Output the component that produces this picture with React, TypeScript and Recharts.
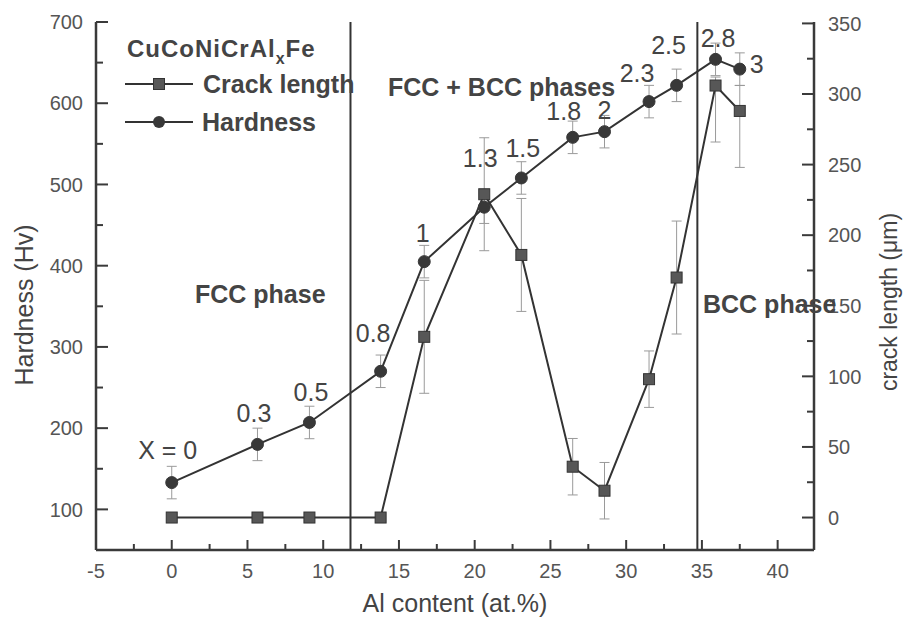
import React from 'react';
import { LineChart, Line, XAxis, YAxis, ErrorBar, ReferenceLine, LabelList, Legend } from 'recharts';

// ---- data ----
const alContent = [0, 5.66, 9.09, 13.79, 16.67, 20.63, 23.08, 26.47, 28.57, 31.51, 33.33, 35.9, 37.5];
const alLabels = ['X = 0', '0.3', '0.5', '0.8', '1', '1.3', '1.5', '1.8', '2', '2.3', '2.5', '2.8', '3'];
const hardness = [133, 180, 207, 270, 405, 472, 508, 558, 565, 602, 622, 654, 642];
const hardnessErr = [20, 20, 20, 20, 20, 20, 20, 20, 20, 20, 20, 20, 20];
const crackLength = [0, 0, 0, 0, 128, 229, 186, 36, 19, 98, 170, 306, 288];
const crackErr: (number | number[])[] = [0, 0, 0, 0, 40, 40, 40, 20, 20, 20, 40, [40, 6], [40, 18]];
const phaseBoundaries = [11.8, 34.7];

const xTicks = [-5, -2.5, 0, 2.5, 5, 7.5, 10, 12.5, 15, 17.5, 20, 22.5, 25, 27.5, 30, 32.5, 35, 37.5, 40];
const leftTicks = [100, 150, 200, 250, 300, 350, 400, 450, 500, 550, 600, 650, 700];
const rightTicks = [0, 25, 50, 75, 100, 125, 150, 175, 200, 225, 250, 275, 300, 325, 350];

const data = alContent.map((al, i) => ({
  al,
  label: alLabels[i],
  hardness: hardness[i],
  hardErr: hardnessErr[i],
  crack: crackLength[i],
  crackErr: crackErr[i],
}));

// ---- layout / style ----
const W = 906;
const H = 626;
const FONT = 'Arial, "Liberation Sans", Helvetica, sans-serif';
const AXIS = '#3a3a3a';
const TICK_TEXT = '#555';
const TEXT = '#444';
const LINE = '#333';
const ERR = '#9a9a9a';

// label offsets (baseline relative to point centre)
const LABEL_DX = [-4, -3.5, 1.5, -7.5, -1.5, -4, 1.5, -9, 0, -12, -8, 2.5, 17];
const LABEL_DY = [-24, -22, -21.5, -29.5, -20, -40.5, -21, -17.5, -12.5, -20, -31.5, -12.5, 4];

const LeftTick = (props: any) => {
  const { x, y, payload } = props;
  const v = payload.value;
  const major = v % 100 === 0;
  return (
    <g>
      <line x1={x} x2={x + (major ? 12 : 7)} y1={y} y2={y} stroke={AXIS} strokeWidth={2} />
      {major && (
        <text x={x - 13} y={y} dy="0.36em" textAnchor="end" fontSize={20} fill={TICK_TEXT} fontFamily={FONT}>
          {v}
        </text>
      )}
    </g>
  );
};

const RightTick = (props: any) => {
  const { x, y, payload } = props;
  const v = payload.value;
  const major = v % 50 === 0;
  return (
    <g>
      <line x1={x} x2={x - (major ? 12 : 7)} y1={y} y2={y} stroke={AXIS} strokeWidth={2} />
      {major && (
        <text x={x + 14} y={y} dy="0.36em" textAnchor="start" fontSize={20} fill={TICK_TEXT} fontFamily={FONT}>
          {v}
        </text>
      )}
    </g>
  );
};

const BottomTick = (props: any) => {
  const { x, y, payload } = props;
  const v = payload.value;
  const major = Math.abs(v % 5) < 1e-6;
  return (
    <g>
      <line x1={x} x2={x} y1={y} y2={y - (major ? 10 : 6)} stroke={AXIS} strokeWidth={2} />
      {major && (
        <text x={x} y={y + 28} textAnchor="middle" fontSize={20} fill={TICK_TEXT} fontFamily={FONT}>
          {v}
        </text>
      )}
    </g>
  );
};

const SquareDot = (props: any) => {
  const { cx, cy, index } = props;
  if (cx == null || cy == null) return <g key={`sq-${index}`} />;
  return <rect key={`sq-${index}`} x={cx - 5.5} y={cy - 5.5} width={11} height={11} fill="#575757" stroke="#333" strokeWidth={1} />;
};

const PointLabel = (props: any) => {
  const vb = props.viewBox || {};
  const x = props.x ?? vb.x;
  const y = props.y ?? vb.y;
  const i = props.index;
  return (
    <text
      x={x + LABEL_DX[i]}
      y={y + LABEL_DY[i]}
      textAnchor="middle"
      fontSize={25}
      fill={TEXT}
      fontFamily={FONT}
    >
      {props.value}
    </text>
  );
};

const renderLegend = () => (
  <svg width={360} height={140} style={{ display: 'block', overflow: 'visible' }}>
    <text x={127} y={57} fontSize={24} fontWeight="bold" fill={TEXT} fontFamily={FONT} letterSpacing={1}>
      CuCoNiCrAl
      <tspan fontSize={16} dy={7}>x</tspan>
      <tspan dy={-7}>Fe</tspan>
    </text>
    <line x1={125} x2={193} y1={84} y2={84} stroke={LINE} strokeWidth={2} />
    <rect x={153.5} y={78.5} width={11} height={11} fill="#575757" stroke="#333" strokeWidth={1} />
    <text x={203} y={93} fontSize={25} fontWeight="bold" fill={TEXT} fontFamily={FONT}>
      Crack length
    </text>
    <line x1={125} x2={193} y1={122} y2={122} stroke={LINE} strokeWidth={2} />
    <circle cx={159} cy={122} r={6} fill="#383838" />
    <text x={202} y={131} fontSize={25} fontWeight="bold" fill={TEXT} fontFamily={FONT}>
      Hardness
    </text>
  </svg>
);

export default function App() {
  return (
    <div style={{ position: 'absolute', left: 0, top: 0, width: W, height: H, background: '#fff', fontFamily: FONT }}>
      <LineChart width={W} height={H} data={data} margin={{ top: 22, right: 0, bottom: 0, left: 0 }}>
        <XAxis
          dataKey="al"
          type="number"
          domain={[-5, 42.4]}
          allowDataOverflow
          ticks={xTicks}
          interval={0}
          tickLine={false}
          tickSize={0}
          tickMargin={0}
          tick={<BottomTick />}
          axisLine={{ stroke: AXIS, strokeWidth: 2.5 }}
          height={76}
        />
        <XAxis
          xAxisId="top"
          orientation="top"
          dataKey="al"
          type="number"
          domain={[-5, 42.4]}
          allowDataOverflow
          tick={false}
          tickLine={false}
          axisLine={{ stroke: AXIS, strokeWidth: 2.5 }}
          height={0}
        />
        <YAxis
          yAxisId="left"
          orientation="left"
          type="number"
          domain={[50, 700]}
          allowDataOverflow
          ticks={leftTicks}
          interval={0}
          tickLine={false}
          tickSize={0}
          tickMargin={0}
          tick={<LeftTick />}
          axisLine={{ stroke: AXIS, strokeWidth: 2.5 }}
          width={96}
        />
        <YAxis
          yAxisId="right"
          orientation="right"
          type="number"
          domain={[-23, 351]}
          allowDataOverflow
          ticks={rightTicks}
          interval={0}
          tickLine={false}
          tickSize={0}
          tickMargin={0}
          tick={<RightTick />}
          axisLine={{ stroke: AXIS, strokeWidth: 2.5 }}
          width={92}
        />
        {phaseBoundaries.map((b) => (
          <ReferenceLine key={b} x={b} yAxisId="left" stroke={LINE} strokeWidth={2} />
        ))}
        <Line
          yAxisId="right"
          dataKey="crack"
          name="Crack length"
          stroke={LINE}
          strokeWidth={2}
          dot={<SquareDot />}
          activeDot={false}
          isAnimationActive={false}
        >
          <ErrorBar dataKey="crackErr" direction="y" width={5} stroke={ERR} strokeWidth={1} />
        </Line>
        <Line
          yAxisId="left"
          dataKey="hardness"
          name="Hardness"
          stroke={LINE}
          strokeWidth={2}
          dot={{ r: 6, fill: '#383838', stroke: '#383838', strokeWidth: 1 }}
          activeDot={false}
          isAnimationActive={false}
        >
          <ErrorBar dataKey="hardErr" direction="y" width={5} stroke={ERR} strokeWidth={1} />
          <LabelList dataKey="label" content={<PointLabel />} />
        </Line>
        <Legend
          layout="horizontal"
          verticalAlign="middle"
          align="center"
          content={renderLegend}
          wrapperStyle={{ left: 0, top: 0, width: 360, height: 140 }}
        />
      </LineChart>
      <svg
        width={W}
        height={H}
        style={{ position: 'absolute', left: 0, top: 0, pointerEvents: 'none' }}
        fontFamily={FONT}
      >
        <text x={455} y={612} textAnchor="middle" fontSize={25} fill={TEXT}>
          Al content (at.%)
        </text>
        <text x={24} y={305} textAnchor="middle" dominantBaseline="central" fontSize={25} fill={TEXT} transform="rotate(-90 24 305)">
          Hardness (Hv)
        </text>
        <text x={889} y={302} textAnchor="middle" dominantBaseline="central" fontSize={23} fill={TEXT} transform="rotate(-90 889 302)">
          crack length (μm)
        </text>
        <text x={388} y={96} fontSize={25} fontWeight="bold" fill={TEXT}>
          FCC + BCC phases
        </text>
        <text x={195} y={303} fontSize={25} fontWeight="bold" fill={TEXT}>
          FCC phase
        </text>
        <text x={703} y={313} fontSize={25} fontWeight="bold" fill={TEXT}>
          BCC phase
        </text>
      </svg>
    </div>
  );
}
